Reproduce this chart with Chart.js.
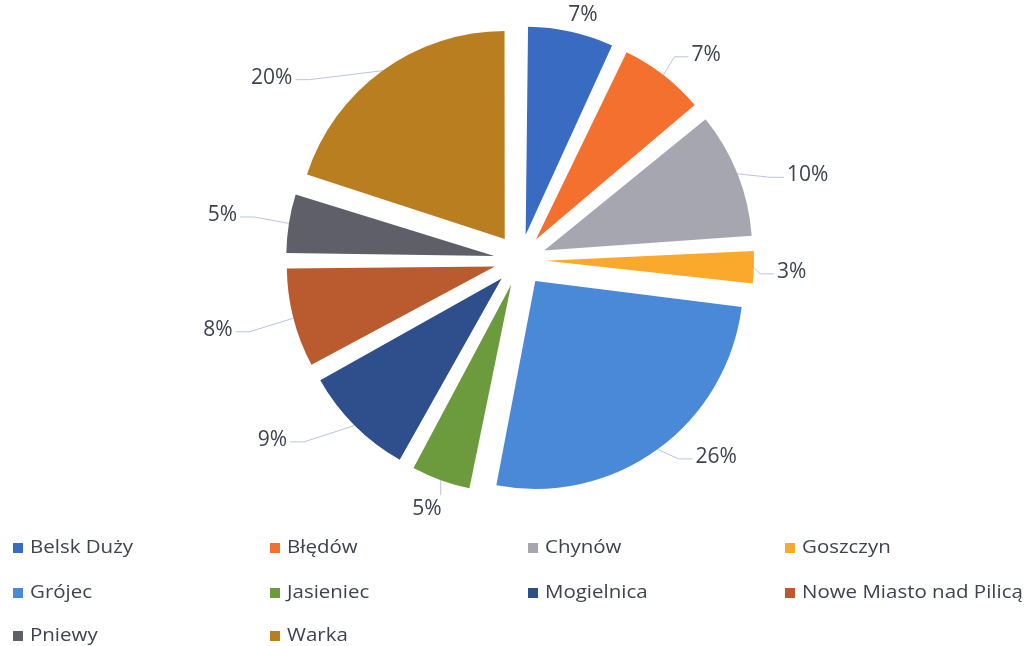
<!DOCTYPE html>
<html>
<head>
<meta charset="utf-8">
<script src="https://cdn.jsdelivr.net/npm/chart.js@4"></script>
<style>
  html, body { margin: 0; padding: 0; background: #fff; }
  #wrap { width: 1029px; height: 646px; }
</style>
</head>
<body>
<div id="wrap"><canvas id="pieChart" width="1029" height="646"></canvas></div>
<script>
const gminy = ['Belsk Duży', 'Błędów', 'Chynów', 'Goszczyn', 'Grójec', 'Jasieniec', 'Mogielnica', 'Nowe Miasto nad Pilicą', 'Pniewy', 'Warka'];
const udzial = [7, 7, 10, 3, 26, 5, 9, 8, 5, 20];
const kolory = ['#3a6bc3', '#f3702f', '#a6a6b1', '#fba92c', '#4a89d8', '#6b9b3d', '#2e4f8c', '#b95b2f', '#5f5f69', '#b97e20'];

const FONT = '"Open Sans", Lato, sans-serif';
const TEXT = '#3e4350';
const PIE_R = 208;
const EXPLODE = 104; // chart.js moves a slice by offset/4

// where excel put each label: [angle shift from slice middle (deg), distance beyond slice edge]
const labelNudge = [[1.8, 19], [4.4, 43], [5.2, 66], [0.7, 38], [-8.9, 44], [0.7, 32], [9, 72], [1.4, 76], [-0.4, 67], [-17.7, 74]];

// chart.js grows the radius of thin exploded slices, keep them all the same size
const evenRadius = {
  id: 'evenRadius',
  beforeDatasetsDraw(chart) {
    chart.getDatasetMeta(0).data.forEach(arc => {
      const t = (arc.options.offset || 0) / 4;
      const fix = 1 - Math.sin(Math.min(Math.PI, arc.circumference));
      arc.outerRadius = PIE_R - t * fix;
    });
  }
};

// percentage labels outside the slices, with thin leader lines
const outerLabels = {
  id: 'outerLabels',
  afterDatasetsDraw(chart) {
    const ctx = chart.ctx;
    const arcs = chart.getDatasetMeta(0).data;
    ctx.save();
    ctx.font = '21px ' + FONT;
    ctx.fillStyle = TEXT;
    ctx.strokeStyle = '#bcc2df';
    ctx.lineWidth = 1;
    arcs.forEach((arc, i) => {
      const mid = (arc.startAngle + arc.endAngle) / 2;
      const edge = PIE_R + EXPLODE / 4;
      const ex = arc.x + Math.cos(mid) * edge, ey = arc.y + Math.sin(mid) * edge;
      const a = mid + labelNudge[i][0] * Math.PI / 180;
      const d = edge + labelNudge[i][1];
      const lx = arc.x + Math.cos(a) * d, ly = arc.y + Math.sin(a) * d;
      const txt = udzial[i] + '%';
      const w = ctx.measureText(txt).width;
      ctx.textAlign = 'center';
      ctx.textBaseline = 'middle';
      ctx.fillText(txt, lx, ly);
      if (labelNudge[i][1] < 25) return;
      ctx.beginPath();
      ctx.moveTo(ex, ey);
      if (Math.abs(Math.sin(a)) > 0.93 && Math.abs(Math.cos(mid)) < 0.4) {
        const s = Math.sin(a) > 0 ? 1 : -1;
        ctx.lineTo(ex, ly - s * 14);
      } else {
        const s = Math.cos(a) > 0 ? 1 : -1;
        const ax = lx - s * (w / 2 + 3);
        ctx.lineTo(ax - s * 14, ly + 2);
        ctx.lineTo(ax, ly + 2);
      }
      ctx.stroke();
    });
    ctx.restore();
  }
};

// legend laid out as a 4-column grid below the pie (scan is a bit stretched sideways)
const gridLegend = {
  id: 'gridLegend',
  afterDraw(chart) {
    const ctx = chart.ctx;
    const cols = [13, 270, 528, 785];
    const rows = [548, 593, 636];
    ctx.save();
    ctx.font = '17.5px ' + FONT;
    ctx.textAlign = 'left';
    ctx.textBaseline = 'middle';
    gminy.forEach((name, i) => {
      const x = cols[i % 4], y = rows[Math.floor(i / 4)];
      ctx.fillStyle = kolory[i];
      ctx.fillRect(x, y - 5, 10, 10);
      ctx.save();
      ctx.translate(x + 17, y);
      ctx.scale(1.17, 1);
      ctx.fillStyle = TEXT;
      ctx.fillText(name, 0, 0);
      ctx.restore();
    });
    ctx.restore();
  }
};

new Chart(document.getElementById('pieChart'), {
  type: 'pie',
  data: {
    labels: gminy,
    datasets: [{
      data: udzial,
      backgroundColor: kolory,
      borderWidth: 0,
      offset: EXPLODE
    }]
  },
  options: {
    responsive: false,
    animation: false,
    radius: PIE_R,
    layout: { padding: { left: 100, right: 89, top: 20, bottom: 146 } },
    plugins: {
      legend: { display: false },
      tooltip: { enabled: false }
    }
  },
  plugins: [evenRadius, outerLabels, gridLegend]
});
</script>
</body>
</html>
